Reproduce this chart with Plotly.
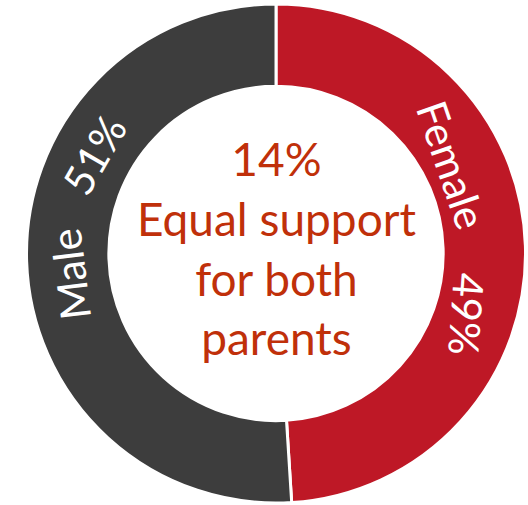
import plotly.graph_objects as go

# Share of support by parent gender
labels = ["Female", "Male"]
values = [49, 51]
colors = ["#BE1826", "#3D3D3D"]

center_pct = "14%"
center_lines = ["Equal support", "for both", "parents"]

W, H = 528, 505
FONT = "Lato"

fig = go.Figure(
    go.Pie(
        labels=labels,
        values=values,
        hole=0.67,
        sort=False,
        direction="clockwise",
        rotation=0,
        marker=dict(colors=colors, line=dict(color="white", width=3)),
        textinfo="none",
        hoverinfo="label+percent",
        showlegend=False,
        domain=dict(x=[0.0502, 0.9953], y=[0.002, 0.994]),
    )
)


def px_to_paper(px, py):
    return px / W, 1 - py / H


# Ring labels: (text, pixel position, rotation)
ring_labels = [
    (labels[0], (452, 165), 71),
    (f"{values[0]}%", (467, 314), 94),
    (labels[1], (70, 275), -97),
    (f"{values[1]}%", (94, 155), -60),
]
for text, (px, py), ang in ring_labels:
    x, y = px_to_paper(px, py)
    fig.add_annotation(
        x=x, y=y, xref="paper", yref="paper",
        text=text, showarrow=False, textangle=ang,
        xanchor="center", yanchor="middle",
        font=dict(family=FONT, size=42, color="white"),
    )

cx, cy = px_to_paper(276, 248)
fig.add_annotation(
    x=cx, y=cy, xref="paper", yref="paper",
    text="<br>".join([center_pct] + center_lines),
    showarrow=False, xanchor="center", yanchor="middle",
    font=dict(family=FONT, size=46, color="#C0300A"),
)

fig.update_layout(
    width=W, height=H,
    margin=dict(l=0, r=0, t=0, b=0),
    paper_bgcolor="white",
    plot_bgcolor="white",
)

fig.write_html("out.html")
